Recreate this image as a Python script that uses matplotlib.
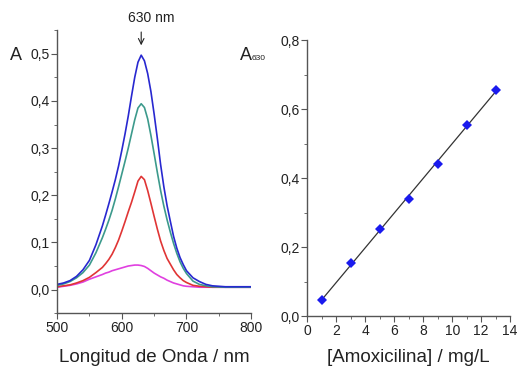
import numpy as np
import matplotlib
matplotlib.use("Agg")
import matplotlib.pyplot as plt
from matplotlib.ticker import MultipleLocator, FuncFormatter

plt.rcParams['font.family'] = ['Liberation Sans', 'DejaVu Sans']

# espectros de absorcion
wl = [500, 510, 520, 530, 540, 550, 560,
      570, 575, 580, 585, 590, 595, 600, 605, 610, 615, 620, 625, 630, 635, 640,
      645, 650, 655, 660, 665, 670, 675, 680, 685, 690, 695, 700,
      710, 720, 730, 740, 760, 780, 800]
a_azul = [0.011, 0.014, 0.019, 0.028, 0.042, 0.062, 0.095,
          0.135, 0.158, 0.182, 0.207, 0.233, 0.262, 0.295, 0.330, 0.368, 0.410, 0.450,
          0.482, 0.497, 0.485, 0.458, 0.420, 0.372, 0.320, 0.265, 0.218, 0.178, 0.145,
          0.113, 0.088, 0.068, 0.053, 0.040,
          0.025, 0.017, 0.011, 0.008, 0.006, 0.006, 0.006]
a_verde = [0.009, 0.012, 0.017, 0.025, 0.036, 0.052, 0.078,
           0.110, 0.128, 0.147, 0.168, 0.192, 0.218, 0.245, 0.272, 0.300, 0.330, 0.360,
           0.385, 0.394, 0.386, 0.362, 0.327, 0.288, 0.248, 0.210, 0.177, 0.148, 0.122,
           0.098, 0.077, 0.059, 0.045, 0.034,
           0.018, 0.011, 0.008, 0.006, 0.005, 0.005, 0.005]
a_rojo = [0.006, 0.008, 0.010, 0.014, 0.019, 0.026, 0.036,
          0.047, 0.055, 0.064, 0.075, 0.089, 0.105, 0.124, 0.144, 0.165, 0.185, 0.207,
          0.230, 0.240, 0.233, 0.210, 0.183, 0.155, 0.128, 0.103, 0.083, 0.066, 0.054,
          0.042, 0.032, 0.025, 0.019, 0.015,
          0.009, 0.007, 0.006, 0.005, 0.005, 0.005, 0.005]
a_magenta = [0.005, 0.007, 0.009, 0.012, 0.016, 0.022, 0.027,
             0.032, 0.035, 0.037, 0.040, 0.042, 0.044, 0.046, 0.048, 0.050, 0.051, 0.052,
             0.052, 0.051, 0.049, 0.045, 0.040, 0.035, 0.031, 0.027, 0.024, 0.020, 0.017,
             0.014, 0.012, 0.010, 0.008, 0.007,
             0.006, 0.005, 0.005, 0.005, 0.005, 0.005, 0.005]

# curva de calibracion
conc = [1, 3, 5, 7, 9, 11, 13]
a630 = [0.047, 0.153, 0.252, 0.340, 0.441, 0.555, 0.655]

txt = '#222222'
gris = '#555555'
coma = FuncFormatter(lambda v, p: ('%.1f' % v).replace('.', ','))

fig = plt.figure(figsize=(5.19, 3.68), dpi=100)

def estilo(ax):
    for s in ['top', 'right']:
        ax.spines[s].set_visible(False)
    for s in ['left', 'bottom']:
        ax.spines[s].set_color(gris)
        ax.spines[s].set_linewidth(1.0)
    ax.tick_params(which='major', direction='out', length=4, width=0.8, color=gris,
                   labelsize=10, labelcolor=txt, pad=1.5)
    ax.tick_params(which='minor', direction='out', length=2, width=0.6, color=gris)

# --- espectros ---
ax1 = fig.add_axes([0.110, 0.149, 0.374, 0.769])
for a, c in [(a_magenta, '#e040e0'), (a_rojo, '#e03535'),
             (a_verde, '#3c9a8c'), (a_azul, '#2828d0')]:
    ax1.plot(wl, a, color=c, lw=1.2, solid_joinstyle='round')
ax1.set_xlim(500, 800)
ax1.set_ylim(-0.05, 0.55)
ax1.xaxis.set_major_locator(MultipleLocator(100))
ax1.xaxis.set_minor_locator(MultipleLocator(50))
ax1.yaxis.set_minor_locator(MultipleLocator(0.05))
ax1.set_yticks([0, 0.1, 0.2, 0.3, 0.4, 0.5])
ax1.yaxis.set_major_formatter(coma)
estilo(ax1)
ax1.set_xlabel('Longitud de Onda / nm', fontsize=13.5, color=txt, labelpad=10)
ax1.annotate('', xy=(630, 0.512), xytext=(630, 0.552),
             arrowprops=dict(arrowstyle='->', color='#222222', lw=0.8), annotation_clip=False)
ax1.text(645, 0.560, '630 nm', fontsize=10, color=txt, ha='center', va='bottom', clip_on=False)
fig.text(10 / 519, 1 - 55 / 368, 'A', fontsize=13, color=txt, ha='left', va='center')

# --- calibracion ---
ax2 = fig.add_axes([0.592, 0.141, 0.391, 0.750])
m, b = np.polyfit(conc, a630, 1)
xs = np.array([conc[0], conc[-1]])
ax2.plot(xs, m * xs + b, color='#333333', lw=0.9)
ax2.plot(conc, a630, 'D', color='#1a1aee', markersize=5, markeredgewidth=0)
ax2.set_xlim(0, 14)
ax2.set_ylim(0, 0.8)
ax2.xaxis.set_major_locator(MultipleLocator(2))
ax2.xaxis.set_minor_locator(MultipleLocator(1))
ax2.yaxis.set_major_locator(MultipleLocator(0.2))
ax2.yaxis.set_minor_locator(MultipleLocator(0.1))
ax2.yaxis.set_major_formatter(coma)
estilo(ax2)
ax2.set_xlabel('[Amoxicilina] / mg/L', fontsize=13.5, color=txt, labelpad=8)
fig.text(240 / 519, 1 - 56 / 368, 'A', fontsize=13, color=txt, ha='left', va='center')
fig.text(252 / 519, 1 - 59 / 368, '630', fontsize=6, color=txt, ha='left', va='center')

fig.savefig('out.png', dpi=100)
